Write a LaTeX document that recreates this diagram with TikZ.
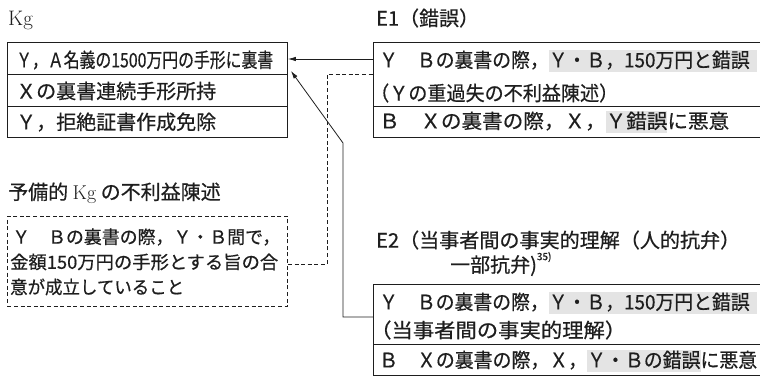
\documentclass[tikz,border=0pt]{standalone}
\usepackage{fontspec}
\usepackage{graphicx}
\newfontfamily\jp[FakeBold=0.6]{Noto Sans CJK JP}
\usetikzlibrary{arrows.meta,calc}
\definecolor{hlgray}{HTML}{E4E4E4}
\definecolor{ink}{HTML}{1E1E1E}
\newcommand{\hlbox}[1]{{\setlength{\fboxsep}{0pt}\colorbox{hlgray}{\rule[-0.22em]{0pt}{1.08em}#1}}}
\newcommand{\fitw}[2]{\resizebox{#1}{\height}{#2}}
\begin{document}
\begin{tikzpicture}[x=1pt,y=-1pt,
  box/.style={draw=ink,line width=0.9pt,anchor=north west,inner sep=0pt},
  dbox/.style={box,dash pattern=on 4pt off 2.6pt},
  txt/.style={anchor=west,inner sep=0pt,text=ink,font=\jp\fontsize{20}{24}\selectfont},
  stxt/.style={anchor=west,inner sep=0pt,text=ink,font=\jp\fontsize{18}{22}\selectfont},
  conn/.style={line width=0.8pt,draw=ink},
  dconn/.style={conn,dash pattern=on 4pt off 2.6pt}]
\useasboundingbox (0,0) rectangle (760,376);

% ---- Kg
\node[txt,font=\rmfamily\fontsize{21}{24}\selectfont] (kglab) at (8,20) {Kg};
\node[box,minimum width=280pt,minimum height=32pt] (kg1) at (7,42) {};
\node[box,minimum width=280pt,minimum height=32pt] (kg2) at (7,74) {};
\node[box,minimum width=280pt,minimum height=31pt] (kg3) at (7,106) {};
\node[txt] (kgt1) at (16,60) {\fitw{257pt}{Ｙ，Ａ名義の1500万円の手形に裏書}};
\node[txt] (kgt2) at (16,91) {Ｘの裏書連続手形所持};
\node[txt] (kgt3) at (16,122) {Ｙ，拒絶証書作成免除};

% ---- E1
\node[txt] (e1lab) at (376,18) {E1（錯誤）};
\node[box,minimum width=420pt,minimum height=64pt] (e1top) at (373,42) {};
\node[box,minimum width=420pt,minimum height=31pt] (e1bot) at (373,106) {};
\node[txt] (e1t1) at (379,61) {\fitw{378pt}{Ｙ　Ｂの裏書の際，\hlbox{Ｙ・Ｂ，150万円と錯誤\hspace{0.4em}}}};
\node[txt] (e1t2) at (370,93) {\fitw{248pt}{（Ｙの重過失の不利益陳述）}};
\node[txt] (e1t3) at (379,122) {\fitw{350pt}{Ｂ　Ｘの裏書の際，Ｘ，\hlbox{Ｙ錯誤}に悪意}};

% ---- preliminary Kg
\node[txt] (pklab) at (8,193) {予備的 {\rmfamily Kg} の不利益陳述};
\node[dbox,minimum width=280pt,minimum height=90pt] (pk) at (7,216) {};
\node[stxt] (pkt1) at (12,237) {\fitw{268pt}{Ｙ　Ｂの裏書の際，Ｙ・Ｂ間で，}};
\node[stxt] (pkt2) at (10,262) {\fitw{268pt}{金額150万円の手形とする旨の合}};
\node[stxt] (pkt3) at (10,287) {\fitw{174pt}{意が成立していること}};

% ---- E2
\node[txt] (e2lab1) at (376,240) {\fitw{364pt}{E2（当事者間の事実的理解（人的抗弁）}};
\node[txt] (e2lab2) at (450,264) {一部抗弁)\raisebox{12pt}{\fontsize{10}{11}\selectfont 35)}};
\node[box,minimum width=420pt,minimum height=60pt] (e2top) at (373,284) {};
\node[box,minimum width=420pt,minimum height=31pt] (e2bot) at (373,344) {};
\node[txt] (e2t1) at (379,303) {\fitw{378pt}{Ｙ　Ｂの裏書の際，\hlbox{Ｙ・Ｂ，150万円と錯誤\hspace{0.4em}}}};
\node[txt] (e2t2) at (370,330) {\fitw{256pt}{（当事者間の事実的理解）}};
\node[txt] (e2t3) at (379,361) {\fitw{378pt}{Ｂ　Ｘの裏書の際，Ｘ，\hlbox{Ｙ・Ｂの錯誤}に悪意}};

% ---- connectors
\coordinate (c1) at (373,59);
\draw[conn,-{Latex[length=8pt,width=4.5pt]}] (c1) -- (c1 -| kg1.east);

\coordinate (d1) at (327,264);
\coordinate (d2) at (327,74);
\draw[dconn] (d1 -| pk.east) -- (d1) -- (d2) -- (d2 -| e1top.west);

\coordinate (b1) at (343,317);
\coordinate (b2) at (343,143);
\coordinate (tip) at ($(kg1.south east)+(3,-4)$);
\draw[conn,-{Latex[length=8pt,width=4.5pt]}] (b1 -| e2top.west) -- (b1) -- (b2) -- (tip);
\end{tikzpicture}
\end{document}
